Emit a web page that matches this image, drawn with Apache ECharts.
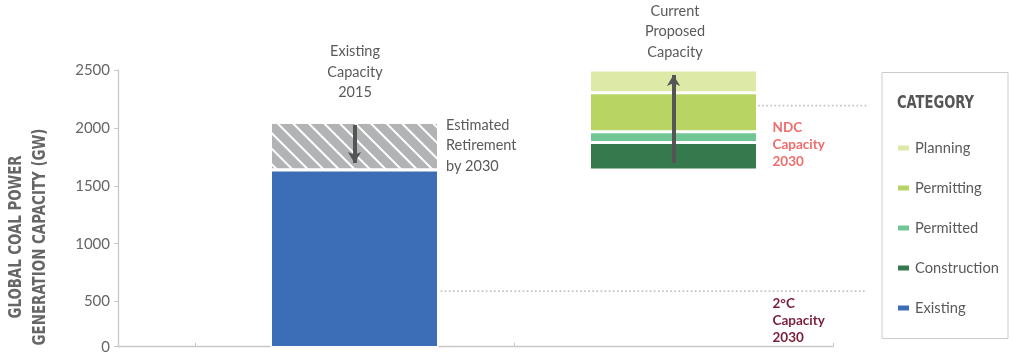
<!DOCTYPE html>
<html><head><meta charset="utf-8">
<script src="https://cdn.jsdelivr.net/npm/echarts@6/dist/echarts.min.js"></script>
<style>html,body{margin:0;padding:0;background:#fff}#c{width:1013px;height:352px}</style>
</head><body><div id="c"></div>
<script>
// ---- data ----
const categories = ['Existing Capacity 2015', 'Current Proposed Capacity'];
const existing     = [1636, null];
const retirement   = [412, null];
const proposedBase = [null, 1636];
const construction = [null, 239];
const permitted    = [null, 92];
const permitting   = [null, 337];
const planning     = [null, 196];
const yTicks = [0, 500, 1000, 1500, 2000, 2500];
const yVisibleMin = 111;          // source axis is cut here but labelled "0"
const ndcCapacity = 2192;
const twoDegCapacity = 590;
const retireArrow = [2025, 1697];
const proposedArrow = [1697, 2457];

// ---- layout / style ----
const extMin = -0.2414, extMax = 2.1066;   // extended overlay (category units)
const barHalf = 0.26;
const textGray = '#5a5a5a';
const axisGray = '#c8c8c8';
const condensedFam = '"DejaVu Sans Condensed","Liberation Sans Narrow",sans-serif';
const bodyFont = 'Lato, "Open Sans", sans-serif';

const mctx = document.createElement('canvas').getContext('2d');
function fitScale(text, font, target) {
  mctx.font = font;
  return target / mctx.measureText(text).width;
}
const titleFont = 'bold 17px ' + condensedFam;
const catFont = 'bold 18px ' + condensedFam;

const tickVals = yTicks.map(v => (v < yVisibleMin ? yVisibleMin : v));
const segStyle = (color) => ({ color: color, borderColor: '#fff', borderWidth: 1.5 });

const bar = (name, data, stack, color, extra) => Object.assign({
  name: name, type: 'bar', stack: stack, data: data, barWidth: 168, barGap: '-100%',
  itemStyle: segStyle(color), xAxisIndex: 0, yAxisIndex: 0
}, extra || {});

const arrowLine = (x, from, to) => ({
  silent: true, symbol: ['none', 'arrow'], symbolSize: [10, 11],
  lineStyle: { color: '#555', width: 4, type: 'solid' }, label: { show: false },
  emphasis: { disabled: true },
  data: [[{ coord: [x, from] }, { coord: [x, to] }]]
});

const hiddenVal = (g, min, max) => ({ type: 'value', gridIndex: g, min: min, max: max, show: false });

const chart = echarts.init(document.getElementById('c'), null, { renderer: 'canvas' });
chart.setOption({
  animation: false,
  backgroundColor: '#fff',
  grid: [
    { left: 195, top: 70, width: 638, height: 276.7, outerBoundsMode: 'none', containLabel: false },
    { left: 118, top: 70, width: 715, height: 276.7, outerBoundsMode: 'none', containLabel: false },
    { left: 118, top: 70, width: 749, height: 276.7, outerBoundsMode: 'none', containLabel: false }
  ],
  xAxis: [
    { type: 'category', gridIndex: 0, data: categories, boundaryGap: true,
      axisLine: { show: false },
      axisTick: { show: true, inside: true, length: 4, lineStyle: { color: axisGray, width: 1 } },
      axisLabel: { show: false }, splitLine: { show: false } },
    { type: 'value', gridIndex: 1, min: 0, max: 1,
      axisLine: { show: true, lineStyle: { color: axisGray, width: 1.3 } },
      axisTick: { show: false }, axisLabel: { show: false }, splitLine: { show: false } },
    hiddenVal(2, extMin, extMax)
  ],
  yAxis: [
    { type: 'value', gridIndex: 0, min: yVisibleMin, max: 2500, offset: 77,
      axisLine: { show: true, lineStyle: { color: axisGray, width: 1.3 } },
      axisTick: { show: true, length: 4, customValues: tickVals, lineStyle: { color: axisGray } },
      axisLabel: { customValues: tickVals, margin: 8, color: '#666', fontSize: 15, fontFamily: bodyFont,
        formatter: v => (v <= yVisibleMin ? '0' : String(v)) },
      splitLine: { show: false } },
    hiddenVal(1, 0, 1),
    hiddenVal(2, yVisibleMin, 2500)
  ],
  legend: {
    show: true, orient: 'vertical', left: 896, top: 140, padding: 0, itemWidth: 13, itemHeight: 7, itemGap: 24,
    icon: 'rect', selectedMode: false,
    textStyle: { color: textGray, fontSize: 14.7, lineHeight: 16, fontFamily: bodyFont },
    data: ['Planning', 'Permitting', 'Permitted', 'Construction', 'Existing']
  },
  series: [
    bar('Existing', existing, 'a', '#3c6eb7', { markLine: arrowLine(0, retireArrow[0], retireArrow[1]) }),
    bar('Estimated Retirement', retirement, 'a', '#b1b3b5', {
      itemStyle: Object.assign(segStyle('#b1b3b5'), {
        decal: { symbol: 'rect', color: '#ffffff', dashArrayX: [1, 0], dashArrayY: [2, 9], rotation: Math.PI / 4, symbolSize: 1 }
      })
    }),
    bar('base', proposedBase, 'b', 'rgba(0,0,0,0)', { itemStyle: { color: 'rgba(0,0,0,0)', borderWidth: 0 } }),
    bar('Construction', construction, 'b', '#35794c'),
    bar('Permitted', permitted, 'b', '#72c594'),
    bar('Permitting', permitting, 'b', '#b8d563'),
    bar('Planning', planning, 'b', '#dde9a7', { markLine: arrowLine(1, proposedArrow[0], proposedArrow[1]) }),
    { name: 'NDC line', type: 'line', xAxisIndex: 2, yAxisIndex: 2, symbol: 'none', silent: true,
      lineStyle: { color: '#c4c4c4', width: 1.7, type: [1.7, 2.4] },
      data: [[1 + 0.5 + barHalf + 0.005, ndcCapacity], [extMax, ndcCapacity]] },
    { name: '2C line', type: 'line', xAxisIndex: 2, yAxisIndex: 2, symbol: 'none', silent: true,
      lineStyle: { color: '#c4c4c4', width: 1.7, type: [1.7, 2.4] },
      data: [[0.5 + barHalf + 0.01, twoDegCapacity], [extMax, twoDegCapacity]] }
  ],
  graphic: [
    { type: 'text', x: 17, y: 237, rotation: Math.PI / 2, scaleX: fitScale('GLOBAL COAL POWER', titleFont, 163),
      style: { text: 'GLOBAL COAL POWER', fill: '#666', font: titleFont, textAlign: 'center', textVerticalAlign: 'middle' } },
    { type: 'text', x: 41, y: 237, rotation: Math.PI / 2, scaleX: fitScale('GENERATION CAPACITY (GW)', titleFont, 217),
      style: { text: 'GENERATION CAPACITY (GW)', fill: '#666', font: titleFont, textAlign: 'center', textVerticalAlign: 'middle' } },
    { type: 'text', x: 355, y: 72.3,
      style: { text: 'Existing\nCapacity\n2015', fill: textGray, font: '14.5px ' + bodyFont, lineHeight: 20.5, textAlign: 'center', textVerticalAlign: 'middle' } },
    { type: 'text', x: 675, y: 31.7,
      style: { text: 'Current\nProposed\nCapacity', fill: textGray, font: '14.5px ' + bodyFont, lineHeight: 20.7, textAlign: 'center', textVerticalAlign: 'middle' } },
    { type: 'text', x: 446, y: 145.5,
      style: { text: 'Estimated\nRetirement\nby 2030', fill: textGray, font: '14.5px ' + bodyFont, lineHeight: 20.4, textAlign: 'left', textVerticalAlign: 'middle' } },
    { type: 'text', x: 772.5, y: 144.7,
      style: { text: 'NDC\nCapacity\n2030', fill: '#f06b6b', font: 'bold 13.5px ' + bodyFont, lineHeight: 17.3, textAlign: 'left', textVerticalAlign: 'middle' } },
    { type: 'text', x: 772.5, y: 320.5,
      style: { text: '2°C\nCapacity\n2030', fill: '#7b1d38', font: 'bold 13.5px ' + bodyFont, lineHeight: 17, textAlign: 'left', textVerticalAlign: 'middle' } },
    { type: 'rect', shape: { x: 882, y: 72.5, width: 126, height: 266 }, style: { fill: 'none', stroke: '#cccccc', lineWidth: 1 } },
    { type: 'text', x: 897, y: 103, scaleX: fitScale('CATEGORY', catFont, 77),
      style: { text: 'CATEGORY', fill: '#555', font: catFont, textAlign: 'left', textVerticalAlign: 'middle' } }
  ]
});
</script>
</body></html>
